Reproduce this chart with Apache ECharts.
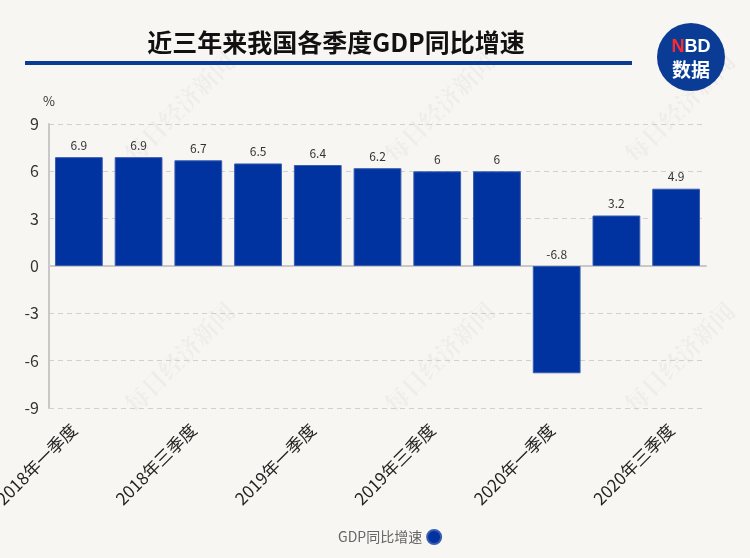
<!DOCTYPE html>
<html><head><meta charset="utf-8">
<script src="https://cdn.jsdelivr.net/npm/echarts@6/dist/echarts.min.js"></script>
<style>html,body{margin:0;padding:0;background:#f8f6f2;}#c{width:750px;height:558px;}</style>
</head><body><div id="c"></div>
<script>
const categories = ['2018年一季度','2018年二季度','2018年三季度','2018年四季度','2019年一季度','2019年二季度','2019年三季度','2019年四季度','2020年一季度','2020年二季度','2020年三季度'];
const gdpGrowth = [6.9, 6.9, 6.7, 6.5, 6.4, 6.2, 6, 6, -6.8, 3.2, 4.9];
const yTicks = {min: -9, max: 9, interval: 3};
const seriesName = 'GDP同比增速';
const titleText = '近三年来我国各季度GDP同比增速';

const font = '"Noto Sans CJK SC", "Microsoft YaHei", sans-serif';
const wm = [];
[[120,150],[380,150],[620,150],[120,400],[380,400],[620,400]].forEach(p=>{
  wm.push({type:'text', x:p[0], y:p[1], rotation:Math.PI/4, silent:true, z:-1,
    style:{text:'每日经济新闻', fill:'rgba(0,0,0,0.035)', font:'bold 24px "Noto Serif CJK SC", serif'}});
});
const chart = echarts.init(document.getElementById('c'));
chart.setOption({
  backgroundColor:'#f8f6f2',
  textStyle:{fontFamily:font},
  title:{text:titleText, left:331, top:25, textAlign:'center',
    textStyle:{fontSize:25, fontWeight:'bold', color:'#111', fontFamily:font}},
  graphic:[
    ...wm,
    {type:'rect', shape:{x:25, y:61, width:607, height:4}, style:{fill:'#0a3c96'}},
    {type:'circle', shape:{cx:691, cy:57, r:34}, style:{fill:'#0a3c96'}},
    {type:'text', x:691, y:47, style:{text:'{r|N}{w|BD}', align:'center', verticalAlign:'middle',
      rich:{r:{fill:'#ff2a2a', font:'bold 18px Arial'}, w:{fill:'#fff', font:'bold 18px Arial'}}}},
    {type:'text', x:691, y:70, style:{text:'数据', align:'center', verticalAlign:'middle', fill:'#fff', font:'bold 19px "Noto Sans CJK SC"'}}
  ],
  legend:{bottom:8, left:333, itemGap:10, align:'right', icon:'circle', itemWidth:14, itemHeight:14,
    textStyle:{color:'#666', fontSize:14, fontFamily:font}, data:[seriesName]},
  grid:{left:49, right:44, top:124, bottom:150, containLabel:false, outerBoundsMode:'none'},
  xAxis:{type:'category', data:categories,
    axisLine:{lineStyle:{color:'#c8c8c8', width:2}}, axisTick:{show:false},
    axisLabel:{interval:1, rotate:45, color:'#222', fontSize:17, margin:14, padding:[0,7,0,0], fontFamily:font}},
  yAxis:{type:'value', min:yTicks.min, max:yTicks.max, interval:yTicks.interval,
    name:'%', nameLocation:'end', nameGap:16, nameTextStyle:{color:'#333', fontSize:13},
    axisLine:{show:true, lineStyle:{color:'#c8c8c8', width:2}}, axisTick:{show:false},
    axisLabel:{color:'#333', fontSize:16, margin:10},
    splitLine:{lineStyle:{type:[5,4], color:'#d0d0d0'}}},
  series:[{name:seriesName, type:'bar', data:gdpGrowth, barWidth:'80%',
    itemStyle:{color:'#0033a0', borderColor:'#3a5cb0', borderWidth:1},
    label:{show:true, position:'top', color:'#333', fontSize:12, distance:6}}]
});
</script></body></html>
